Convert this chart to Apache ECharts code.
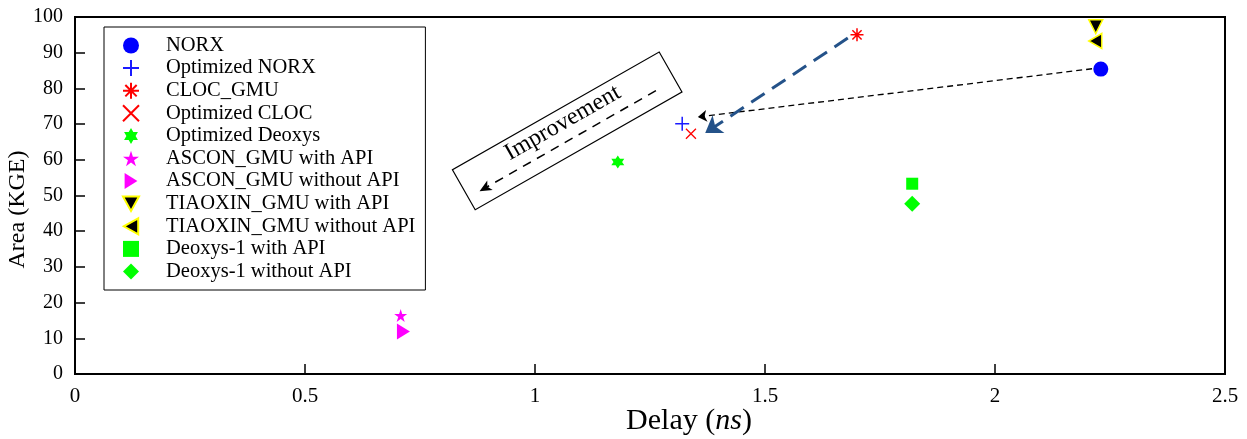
<!DOCTYPE html>
<html><head><meta charset="utf-8">
<script src="https://cdn.jsdelivr.net/npm/echarts@6/dist/echarts.min.js"></script>
<style>html,body{margin:0;padding:0;background:#fff}#c{width:1247px;height:439px}</style>
</head><body><div id="c"></div>
<script>
// ---- data ----
const seriesNames = ['NORX','Optimized NORX','CLOC_GMU','Optimized CLOC','Optimized Deoxys','ASCON_GMU with API','ASCON_GMU without API','TIAOXIN_GMU with API','TIAOXIN_GMU without API','Deoxys-1 with API','Deoxys-1 without API'];
const norx = [[2.230, 85.4]];
const optNorx = [[1.320, 70.1]];
const clocGmu = [[1.700, 95.0]];
const optCloc = [[1.339, 67.3]];
const optDeoxys = [[1.180, 59.4]];
const asconWith = [[0.708, 16.4]];
const asconWithout = [[0.714, 11.9]];
const tiaoxinWith = [[2.219, 97.3]];
const tiaoxinWithout = [[2.218, 93.3]];
const deoxysWith = [[1.820, 53.3]];
const deoxysWithout = [[1.820, 47.7]];
const arrowNorx = [[2.211, 85.5], [1.354, 72.0]];
const arrowCloc = [[1.680, 94.1], [1.370, 67.5]];
const improvementCenter = [1.070, 68.1];
const xTicks = [0, 0.5, 1, 1.5, 2, 2.5];
const yTicks = [0, 10, 20, 30, 40, 50, 60, 70, 80, 90, 100];

const SERIF = '"Liberation Serif","DejaVu Serif",serif';
const P = {
  plus: 'path://M0,5L10,5M5,0L5,10',
  ast: 'path://M5,0L5,10M0,5L10,5M1.46,1.46L8.54,8.54M1.46,8.54L8.54,1.46',
  cross: 'path://M0,0L10,10M0,10L10,0',
  hex: 'path://M5,0L9.33,7.5L0.67,7.5ZM5,10L0.67,2.5L9.33,2.5Z',
  star: 'path://M5,0L6.18,3.62L9.98,3.62L6.9,5.86L8.09,9.51L5,7.26L1.91,9.51L3.1,5.86L0.02,3.62L3.82,3.62Z',
  triR: 'path://M0,0L8,5L0,10Z',
  triD: 'path://M0,0L10,0L5,9Z',
  triL: 'path://M9,0L0,5L9,10Z'
};
function sc(name, data, symbol, size, style, extra) {
  return Object.assign({
    name, type: 'scatter', data, symbol, symbolSize: size,
    itemStyle: Object.assign({ opacity: 1 }, style), emphasis: { disabled: true }, z: 3
  }, extra || {});
}
const chart = echarts.init(document.getElementById('c'));
const markArrow = (pts, color, width, dash, headSize) => ({
  silent: true, animation: false,
  symbol: ['none', 'arrow'], symbolSize: headSize,
  label: { show: false },
  lineStyle: { color, width, type: dash, opacity: 1 },
  emphasis: { disabled: true },
  data: [[{ coord: pts[0] }, { coord: pts[1] }]]
});
const series = [
  sc(seriesNames[0], norx, 'circle', 15, { color: '#0000ff' }, { markLine: markArrow(arrowNorx, '#000', 1.3, [6, 4], 9) }),
  sc(seriesNames[1], optNorx, P.plus, 14, { color: 'rgba(0,0,0,0)', borderColor: '#1a1aff', borderWidth: 1.5 }),
  sc(seriesNames[2], clocGmu, P.ast, 13, { color: 'rgba(0,0,0,0)', borderColor: '#ff0000', borderWidth: 1.5 }, { markLine: markArrow(arrowCloc, '#245289', 3, [16, 9], 16) }),
  sc(seriesNames[3], optCloc, P.cross, 10, { color: 'rgba(0,0,0,0)', borderColor: '#ff0000', borderWidth: 1.3 }),
  sc(seriesNames[4], optDeoxys, P.hex, 13, { color: '#00ff00' }),
  sc(seriesNames[5], asconWith, P.star, 13, { color: '#ff00ff' }),
  sc(seriesNames[6], asconWithout, P.triR, [13, 16], { color: '#ff00ff' }),
  sc(seriesNames[7], tiaoxinWith, P.triD, 14, { color: '#000', borderColor: '#ffff00', borderWidth: 1.5 }),
  sc(seriesNames[8], tiaoxinWithout, P.triL, [13, 15], { color: '#000', borderColor: '#ffff00', borderWidth: 1.5 }),
  sc(seriesNames[9], deoxysWith, 'rect', 12, { color: '#00ff00' }),
  sc(seriesNames[10], deoxysWithout, 'diamond', 16, { color: '#00ff00' })
];
const axisLine = { show: true, onZero: false, lineStyle: { color: '#000', width: 2 } };
const option = {
  animation: false,
  backgroundColor: '#fff',
  grid: { left: 75, right: 22, top: 17, bottom: 65, containLabel: false, outerBoundsMode: 'none', show: true, borderColor: '#000', borderWidth: 2, backgroundColor: 'transparent' },
  xAxis: {
    type: 'value', min: xTicks[0], max: xTicks[xTicks.length - 1], interval: 0.5,
    axisLine, splitLine: { show: false },
    axisTick: { inside: true, length: 10, lineStyle: { color: '#000', width: 1.5 } },
    axisLabel: { color: '#000', fontFamily: SERIF, fontSize: 21, margin: 12, formatter: v => String(v) },
    name: 'Delay ({i|ns})', nameLocation: 'middle', nameGap: 32, nameMoveOverlap: false,
    nameTextStyle: { color: '#000', fontFamily: SERIF, fontSize: 30, padding: [0, 0, 0, 78], rich: { i: { fontStyle: 'italic', fontFamily: SERIF, fontSize: 30 } } }
  },
  yAxis: {
    type: 'value', min: yTicks[0], max: yTicks[yTicks.length - 1], interval: 10,
    axisLine, splitLine: { show: false },
    axisTick: { inside: true, length: 10, lineStyle: { color: '#000', width: 1.5 } },
    axisLabel: { color: '#000', fontFamily: SERIF, fontSize: 20, margin: 12 },
    name: 'Area (KGE)', nameLocation: 'middle', nameGap: 45, nameMoveOverlap: false,
    nameTextStyle: { color: '#000', fontFamily: SERIF, fontSize: 24, padding: [0, 28, 0, 0] }
  },
  legend: {
    orient: 'vertical', left: 104, top: 27,
    backgroundColor: '#fff', borderColor: '#000', borderWidth: 1,
    padding: [8, 10, 8, 18],
    itemWidth: 16, itemHeight: 16, itemGap: 1.6,
    textStyle: { color: '#000', fontFamily: SERIF, fontSize: 20.5, padding: [0, 0, 0, 22] },
    data: seriesNames, selectedMode: false
  },
  series
};
chart.setOption(option);
const c = chart.convertToPixel({ gridIndex: 0 }, improvementCenter);
chart.setOption({
  graphic: [{
    type: 'group', x: c[0], y: c[1], rotation: 0.518, z: 10,
    children: [
      { type: 'rect', shape: { x: -119, y: -23, width: 238, height: 46 }, style: { fill: '#fff', stroke: '#000', lineWidth: 1.2 } },
      { type: 'text', x: 0, y: -9, style: { text: 'Improvement', fill: '#000', font: '24px ' + SERIF, align: 'center', verticalAlign: 'middle' } },
      { type: 'line', shape: { x1: 97, y1: 9, x2: -98, y2: 9 }, style: { stroke: '#000', lineWidth: 1.5, lineDash: [9, 7] } },
      { type: 'polygon', shape: { points: [[-106, 9], [-94, 3.5], [-97, 9], [-94, 14.5]] }, style: { fill: '#000' } }
    ]
  }]
});
</script>
</body></html>
